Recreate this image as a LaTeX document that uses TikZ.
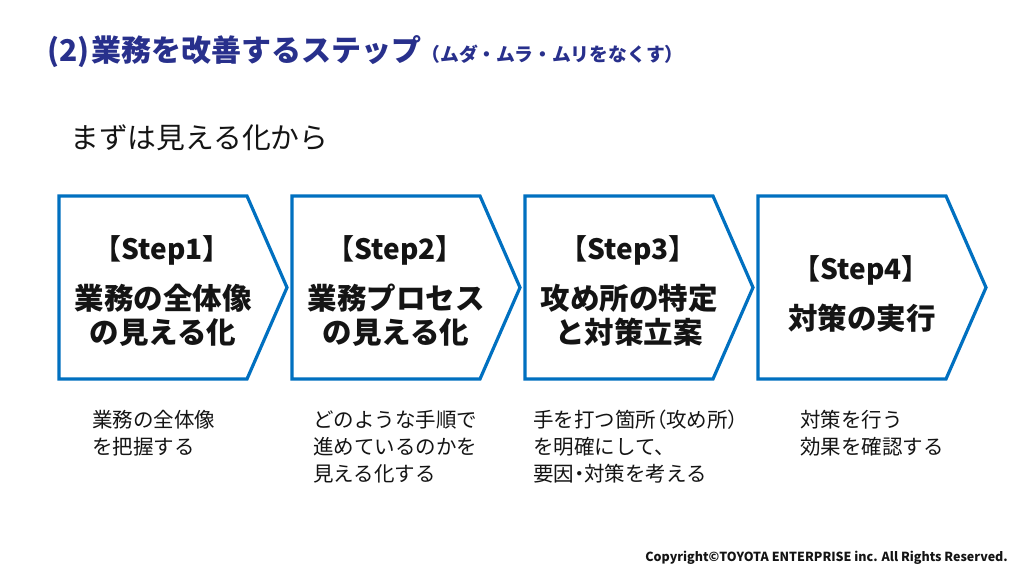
\documentclass[tikz,border=0pt]{standalone}
\usepackage{fontspec}
\setmainfont{Noto Sans CJK JP}
\newcommand{\narrowp}[1]{{\addfontfeatures{RawFeature=+palt}#1}}
\definecolor{stepblue}{RGB}{0,112,192}
\definecolor{titlenavy}{RGB}{40,48,140}
\definecolor{bodytext}{RGB}{20,20,20}
\tikzset{
  pent/.style={draw=stepblue, line width=3.2pt, line join=miter, fill=white},
  stephead/.style={font=\bfseries\fontsize{28}{34}\selectfont, text=bodytext, inner sep=0pt},
  stepbody/.style={font=\bfseries\fontsize{29.5}{34}\selectfont, text=bodytext, align=center, inner sep=0pt},
  desc/.style={font=\fontsize{20.5}{27}\selectfont, text=bodytext, align=left, anchor=north west, inner sep=0pt},
}
\begin{document}
\begin{tikzpicture}[x=1pt,y=-1pt]
\useasboundingbox[fill=white] (0,0) rectangle (1024,576);

% title
\node[anchor=west, inner sep=0pt, text=titlenavy, font=\bfseries\fontsize{30}{34}\selectfont] (title) at (47,52)
  {(2)\kern2pt 業務を改善するステップ{\fontsize{18.8}{22}\selectfont（ムダ・ムラ・ムリをなくす）}};

\node[anchor=west, inner sep=0pt, text=bodytext, font=\fontsize{28.8}{34}\selectfont] (intro) at (70,138) {まずは見える化から};

% pentagons
\foreach \x/\n in {59/1,292/2,525/3,758/4}{
  \draw[pent] (\x,196) coordinate (p\n) -- ++(188,0) -- ++(40,91.5) coordinate (tip\n) -- ++(-40,91.5) -- ++(-188,0) -- cycle;
}

\node[stephead] (h1) at (162,250) {【Step1】};
\node[stepbody] (b1) at (163,315) {業務の全体像\\の見える化};
\node[stephead] (h2) at (395,250) {【Step2】};
\node[stepbody] (b2) at (396,315) {業務プロセス\\の見える化};
\node[stephead] (h3) at (628,250) {【Step3】};
\node[stepbody] (b3) at (629,315) {攻め所の特定\\と対策立案};
\node[stephead] (h4) at (861,270) {【Step4】};
\node[stepbody] (b4) at (862,318) {対策の実行};

% descriptions
\node[desc] (d1) at (92,410) {業務の全体像\\を把握する};
\node[desc] (d2) at (313,410) {どのような手順で\\進めているのかを\\見える化する};
\node[desc] (d3) at (533,410) {手を打つ箇所\narrowp{（}攻め所\narrowp{）}\\を明確にして、\\要因\narrowp{・}対策を考える};
\node[desc] (d4) at (800,410) {対策を行う\\効果を確認する};

% footer
\node[anchor=east, inner sep=0pt, text=bodytext, font=\bfseries\fontsize{12.5}{15}\selectfont] (foot) at (1008,558)
  {Copyright©TOYOTA ENTERPRISE inc. All Rights Reserved.};
\end{tikzpicture}
\end{document}
